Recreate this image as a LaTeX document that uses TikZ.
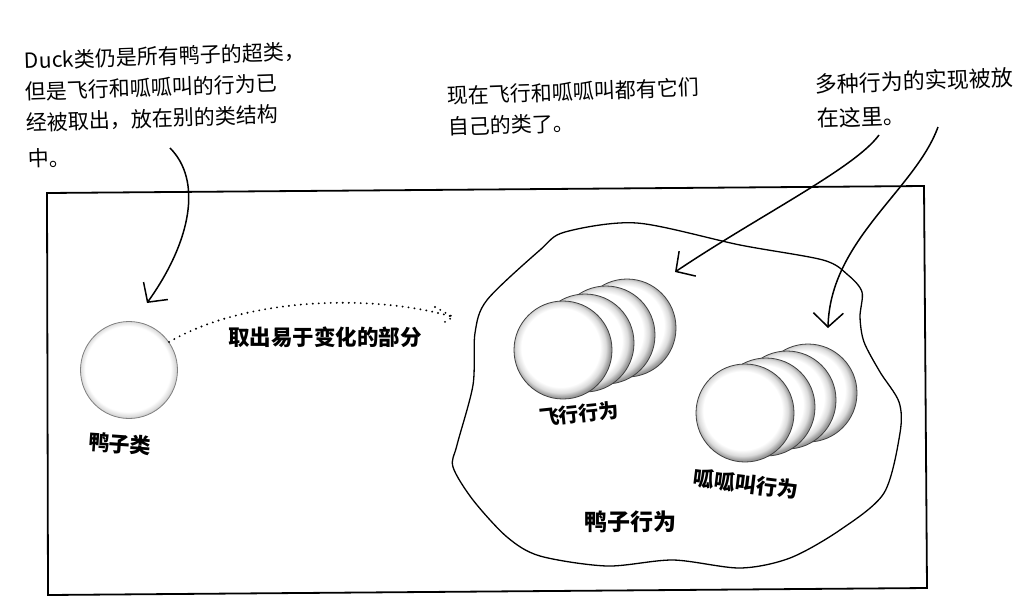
\documentclass[tikz,border=0pt]{standalone}
\usepackage{fontspec}
\newfontfamily\cjk{Noto Sans CJK SC}
\usetikzlibrary{arrows.meta}
\pgfdeclareradialshading{rim}{\pgfpoint{-2bp}{2bp}}{color(0bp)=(white); color(20bp)=(white); color(23bp)=(black!14); color(25bp)=(black!38); color(27bp)=(black!50); color(50bp)=(black!50)}
\pgfdeclareradialshading{rimlight}{\pgfpoint{-1bp}{1bp}}{color(0bp)=(white); color(22bp)=(white); color(24.5bp)=(black!14); color(26bp)=(black!28); color(50bp)=(black!28)}
\begin{document}
\begin{tikzpicture}[x=1pt,y=-1pt,
  frame/.style={line width=1.8pt, line join=miter},
  blob/.style={line width=1.3pt},
  pointer/.style={line width=1.5pt, -{Straight Barb[length=14pt,width=30pt]}},
  dots/.style={line width=2.1pt, line cap=round, dash pattern=on 0pt off 6pt},
  disc/.style={circle, minimum size=98pt, inner sep=0pt, shading=rim, draw=black!75, line width=0.8pt},
  lightdisc/.style={circle, minimum size=97pt, inner sep=0pt, shading=rimlight, draw=black!50, line width=0.8pt},
  note/.style={align=left, inner sep=0pt, anchor=north west, font=\cjk\fontsize{21}{31}\selectfont},
  lbl/.style={inner sep=0pt, font=\cjk\bfseries\fontsize{21}{25}\selectfont}]
\fill[white] (0,0) rectangle (1030,606);
\useasboundingbox (0,0) rectangle (1030,606);

% frame
\draw[frame] (47,193) -- (924,186) -- (927,588) -- (48,595) -- cycle;

% behaviour blob
\draw[blob] plot[smooth cycle, tension=0.5] coordinates {
 (637,223) (740,245) (823,260) (848,275) (862,292) (860,317) (864,342) (880,372)
 (899,402) (900,433) (884,493) (840,530) (790,558) (740,568) (673,560) (607,566)
 (540,556) (507,537) (473,500) (453,467) (457,445) (473,385) (475,333) (487,300)
 (540,250) (565,232)};

% duck class
\node[lightdisc] (duck) at (129,370) {};
\node[lbl, rotate=-4] (duckLbl) at (120,444) {鸭子类};

% flying behaviours
\node[disc] (f4) at (627,328) {};
\node[disc] (f3) at (606,335) {};
\node[disc] (f2) at (585,343) {};
\node[disc] (f1) at (563,350) {};
\node[lbl, font=\cjk\bfseries\fontsize{20}{24}\selectfont, rotate=6] (flyLbl) at (579,414) {飞行行为};

% quack behaviours
\node[disc] (q4) at (808,393) {};
\node[disc] (q3) at (787,400) {};
\node[disc] (q2) at (766,407) {};
\node[disc] (q1) at (745,413) {};
\node[lbl, rotate=-7] (quackLbl) at (746,484) {呱呱叫行为};

\node[lbl, font=\cjk\bfseries\fontsize{23}{27}\selectfont] (behLbl) at (630,522) {鸭子行为};

% extract arrow
\node[lbl, font=\cjk\bfseries\fontsize{21.5}{26}\selectfont] (extract) at (325,337) {取出易于变化的部分};
\coordinate (dend) at (453,317);
\draw[dots] (duck.35) .. controls (250,295) and (380,295) .. (dend);
\draw[dots] (dend) ++(-18,-10) -- (dend) -- ++(-13,8);

% annotations
\node[note, rotate=2] (noteDuck) at (24,51) {Duck类仍是所有鸭子的超类，\\但是飞行和呱呱叫的行为已\\经被取出，放在别的类结构\\[5pt]中。};
\node[note, rotate=2] (noteNow) at (447,86) {现在飞行和呱呱叫都有它们\\自己的类了。};
\node[note, rotate=2, font=\cjk\fontsize{22}{34}\selectfont] (noteImpl) at (815,74) {多种行为的实现被放\\在这里。};

% pointers
\coordinate (p1s) at (170,148);
\coordinate (p1e) at (147,303);
\draw[pointer] (p1s) .. controls (202,180) and (192,240) .. (p1e);
\coordinate (p2s) at (879,135);
\coordinate (p2e) at (675,272);
\draw[pointer] (p2s) .. controls (855,168) and (760,215) .. (p2e);
\coordinate (p3s) at (938,127);
\coordinate (p3e) at (828,328);
\draw[pointer] (p3s) .. controls (915,190) and (830,240) .. (p3e);
\end{tikzpicture}
\end{document}
